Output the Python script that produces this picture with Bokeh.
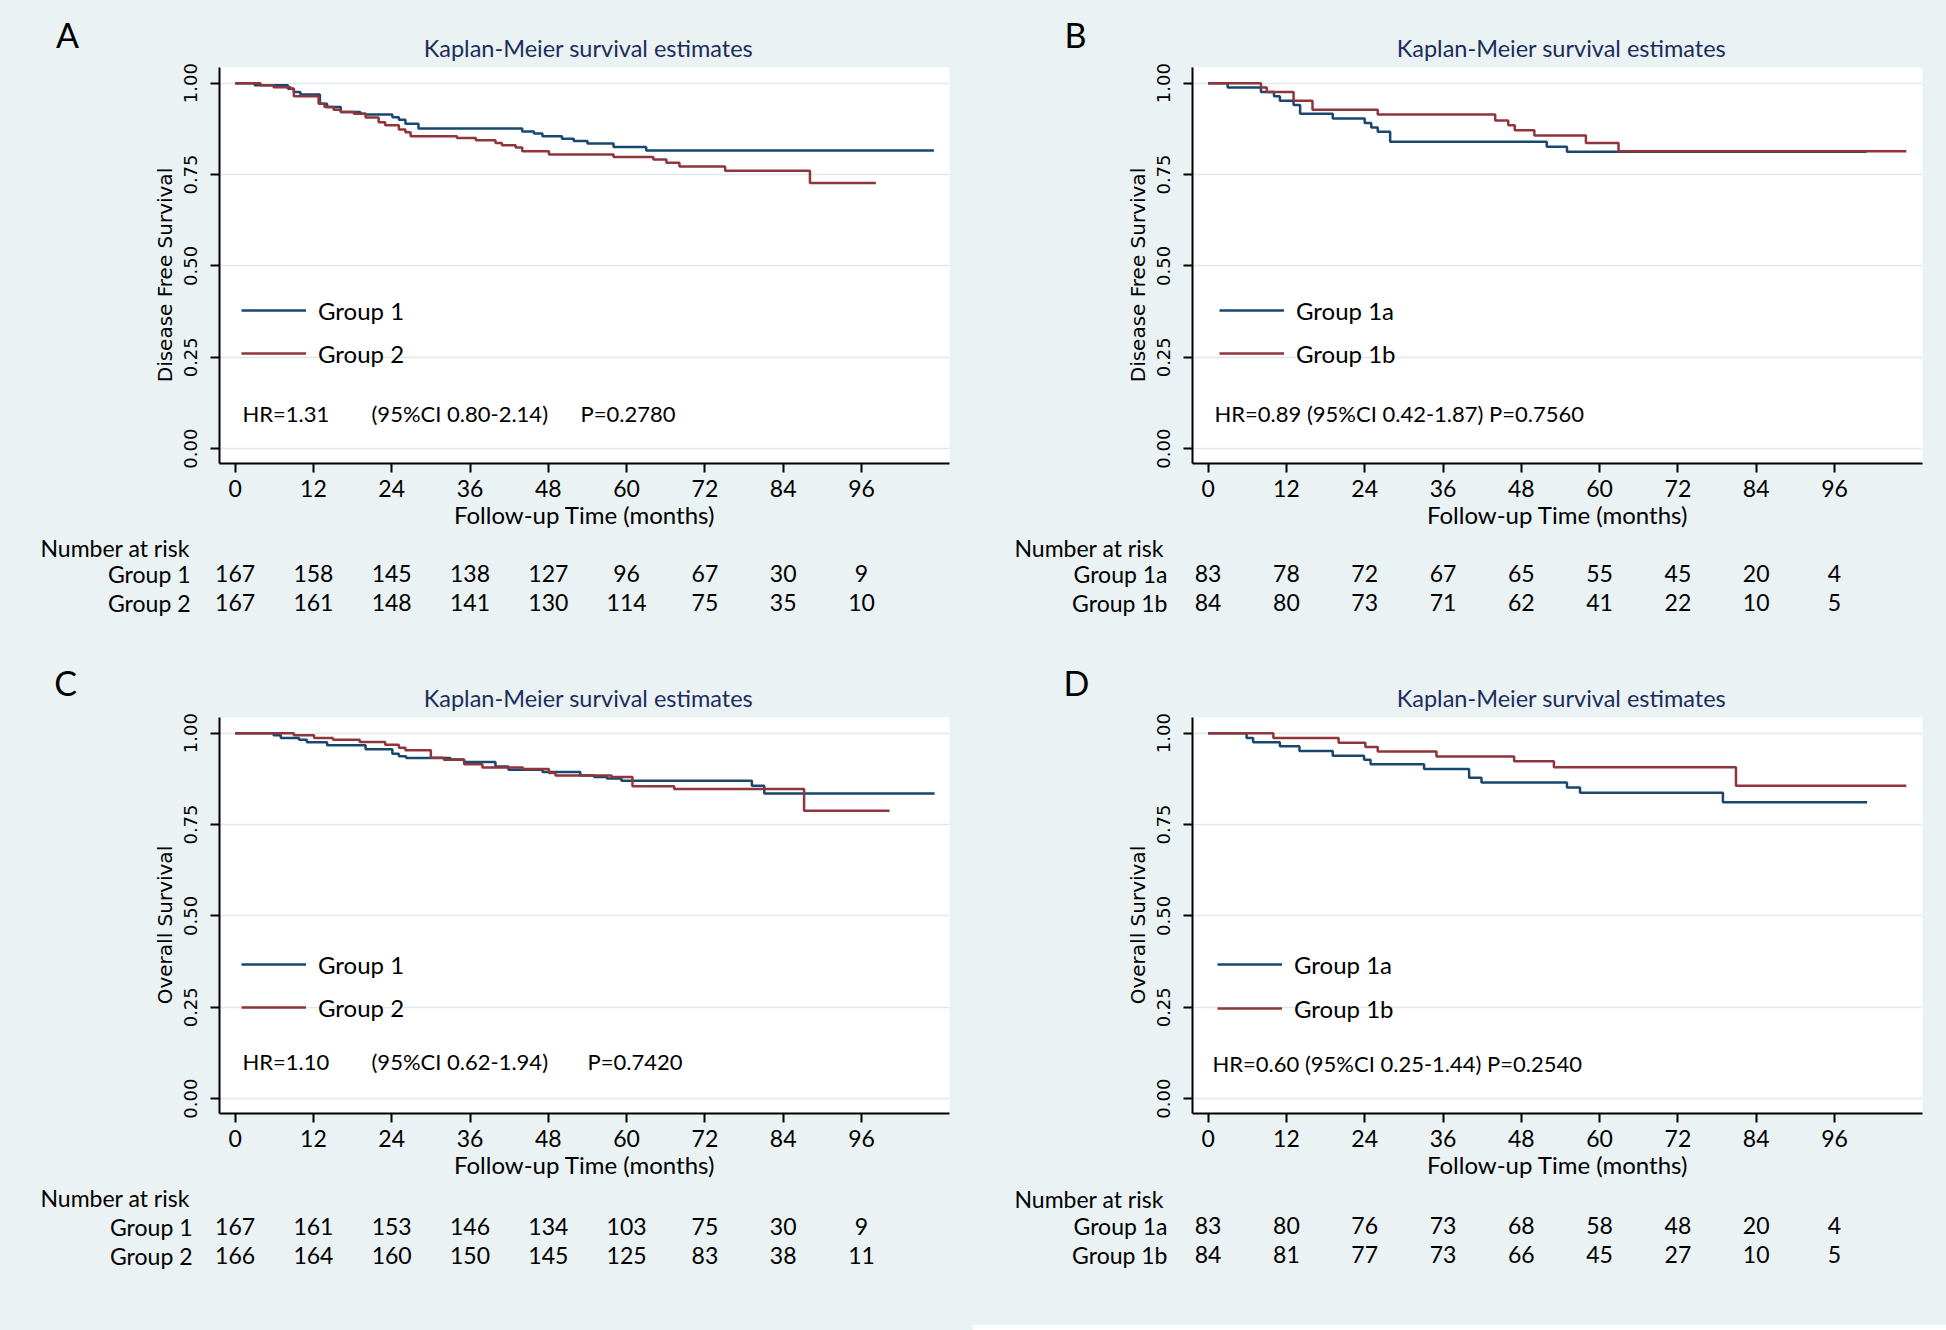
from bokeh.plotting import figure
from bokeh.models import (Range1d, FixedTicker, NumeralTickFormatter, Label,
                          Legend, LegendItem)
from bokeh.core.properties import value
from bokeh.layouts import column, row
from bokeh.embed import file_html
from bokeh.resources import INLINE

# ---------------- data ----------------
RISK_TIMES = [0, 12, 24, 36, 48, 60, 72, 84, 96]
X_TICKS = [0, 12, 24, 36, 48, 60, 72, 84, 96]
Y_TICKS = [0.0, 0.25, 0.5, 0.75, 1.0]

# Panel A: disease free survival, Group 1 vs Group 2
A_g1_time = [0, 3.0, 8.1, 9.0, 10.0, 13.0, 14.1, 16.2, 19.2, 20.0, 24.1, 25.1, 26.1, 28.1,
             44.0, 45.8, 47.1, 50.1, 51.9, 54.0, 58.0, 63.0, 107.1]
A_g1_surv = [1.0, 0.994, 0.985, 0.976, 0.969, 0.944, 0.935, 0.921, 0.916, 0.914, 0.907, 0.900,
             0.889, 0.876, 0.868, 0.862, 0.855, 0.848, 0.842, 0.835, 0.825, 0.816, 0.816]
A_g2_time = [0, 3.9, 5.9, 8.5, 9.0, 12.8, 13.7, 15.1, 16.2, 18.2, 20.0, 22.0, 23.0, 25.1, 26.1,
             26.9, 34.0, 36.9, 39.9, 40.9, 43.0, 44.0, 48.1, 58.0, 64.1, 66.1, 68.1, 75.1, 88.1, 98.2]
A_g2_surv = [1.0, 0.994, 0.989, 0.985, 0.964, 0.944, 0.935, 0.927, 0.921, 0.916, 0.906, 0.893,
             0.885, 0.873, 0.866, 0.855, 0.850, 0.844, 0.836, 0.830, 0.824, 0.814, 0.805, 0.798,
             0.791, 0.782, 0.772, 0.760, 0.727, 0.727]
A_risk_g1 = [167, 158, 145, 138, 127, 96, 67, 30, 9]
A_risk_g2 = [167, 161, 148, 141, 130, 114, 75, 35, 10]

# Panel B: disease free survival, Group 1a vs Group 1b
B_g1_time = [0, 3.0, 8.1, 10.1, 11.0, 13.1, 14.1, 19.1, 24.0, 25.0, 26.0, 27.9, 51.9, 55.0, 100.9]
B_g1_surv = [1.0, 0.988, 0.976, 0.964, 0.952, 0.940, 0.916, 0.903, 0.891, 0.879, 0.867, 0.840,
             0.826, 0.812, 0.812]
B_g2_time = [0, 8.1, 9.0, 13.1, 16.0, 26.0, 44.0, 46.0, 47.0, 50.0, 57.9, 62.9, 107.0]
B_g2_surv = [1.0, 0.988, 0.976, 0.952, 0.927, 0.914, 0.898, 0.885, 0.871, 0.857, 0.836, 0.814, 0.814]
B_risk_g1 = [83, 78, 72, 67, 65, 55, 45, 20, 4]
B_risk_g2 = [84, 80, 73, 71, 62, 41, 22, 10, 5]

# Panel C: overall survival, Group 1 vs Group 2
C_g1_time = [0, 5.9, 7.0, 9.8, 11.0, 14.1, 20.0, 24.1, 25.1, 26.2, 33.0, 35.1, 39.9, 41.9, 47.1,
             52.9, 55.0, 57.0, 59.2, 79.2, 81.1, 107.2]
C_g1_surv = [1.0, 0.994, 0.987, 0.982, 0.975, 0.967, 0.956, 0.944, 0.937, 0.932, 0.928, 0.921,
             0.909, 0.900, 0.894, 0.884, 0.880, 0.876, 0.870, 0.856, 0.835, 0.835]
C_g2_time = [0, 9.0, 12.1, 15.0, 19.1, 23.0, 25.1, 26.1, 30.0, 32.0, 35.1, 37.9, 44.1, 48.1, 49.1,
             57.7, 60.9, 67.3, 87.2, 100.3]
C_g2_surv = [1.0, 0.994, 0.987, 0.982, 0.976, 0.968, 0.960, 0.953, 0.933, 0.927, 0.915, 0.906,
             0.902, 0.891, 0.884, 0.880, 0.855, 0.847, 0.788, 0.788]
C_risk_g1 = [167, 161, 153, 146, 134, 103, 75, 30, 9]
C_risk_g2 = [166, 164, 160, 150, 145, 125, 83, 38, 11]

# Panel D: overall survival, Group 1a vs Group 1b
D_g1_time = [0, 5.9, 6.9, 11.0, 14.0, 19.1, 23.9, 24.9, 33.1, 40.0, 41.9, 55.0, 57.0, 78.9, 101.0]
D_g1_surv = [1.0, 0.987, 0.975, 0.964, 0.951, 0.938, 0.927, 0.915, 0.902, 0.878, 0.865, 0.851,
             0.837, 0.811, 0.811]
D_g2_time = [0, 10.0, 20.0, 24.1, 26.0, 35.0, 46.9, 53.0, 80.9, 107.0]
D_g2_surv = [1.0, 0.987, 0.974, 0.962, 0.950, 0.936, 0.923, 0.907, 0.856, 0.856]
D_risk_g1 = [83, 80, 76, 73, 68, 58, 48, 20, 4]
D_risk_g2 = [84, 81, 77, 73, 66, 45, 27, 10, 5]

TITLE = "Kaplan-Meier survival estimates"
XLABEL = "Follow-up Time (months)"
YLABEL_DFS = "Disease Free Survival"
YLABEL_OS = "Overall Survival"

# ---------------- style ----------------
BG = "#eaf2f3"
BLUE = "#1a476f"
RED = "#90353b"
TITLE_C = "#1c2d5c"
GRID_C = "#dfe8eb"
SANS = "Lato"
DEJ = "DejaVu Sans"
NBSP_PAD = "\u00a0\u00a0\u00a0"   # nudges the rotated y label slightly downwards

PANEL_W = 973
HEAD_H = 62          # header strip (letter + title)
MAIN_BOTTOM = 531    # bottom of the plot figure, panel-relative
FRAME_L, FRAME_T, FRAME_W, FRAME_H = 219, 67, 730, 397

# panel-relative pixel -> data helpers
X0_PX, S1_PX, PX_MONTH, PX_UNIT = 234.6, 82.7, 6.525, 366.4
def tx(px):
    return (px - X0_PX) / PX_MONTH
def sy(py):
    return 1 - (py - S1_PX) / PX_UNIT


def deco_fig(height, y_top):
    f = figure(width=PANEL_W, height=height,
               x_range=Range1d(tx(0), tx(PANEL_W)),
               y_range=Range1d(y_top + height, y_top),
               x_axis_type=None, y_axis_type=None,
               output_backend="svg", toolbar_location=None, tools="", min_border=0,
               background_fill_color=BG, border_fill_color=BG, outline_line_color=None)
    f.frame_align = False
    f.grid.visible = False
    return f


def panel(letter, letter_xy, ylab, curves, names, leg_x, leg_y, hr_items, hr_y,
          risks, lab_right, nar_left, nar_y, row_y, total_h):
    # ---- header: panel letter and title
    head = deco_fig(HEAD_H, 0)
    head.text(x=[tx(letter_xy[0])], y=[letter_xy[1]], text=[letter], text_align="center",
              text_baseline="middle", text_font=value(SANS), text_font_size=value("34px"),
              text_color="black")
    head.text(x=[tx(588)], y=[47.5], text=[TITLE], text_align="center",
              text_baseline="middle", text_font=value(SANS), text_font_size=value("23.5px"),
              text_color=TITLE_C)

    # ---- main plot
    main_h = MAIN_BOTTOM - HEAD_H
    mbt = FRAME_T - HEAD_H
    mbb = main_h - mbt - FRAME_H
    p = figure(width=PANEL_W, height=main_h,
               x_range=Range1d(tx(FRAME_L), tx(FRAME_L + FRAME_W)),
               y_range=Range1d(sy(FRAME_T + FRAME_H), sy(FRAME_T)),
               output_backend="svg", toolbar_location=None, tools="",
               min_border_left=FRAME_L, min_border_right=PANEL_W - FRAME_L - FRAME_W,
               min_border_top=mbt, min_border_bottom=mbb,
               background_fill_color="white", border_fill_color=BG,
               outline_line_color=None)
    p.frame_align = False

    p.xaxis.ticker = FixedTicker(ticks=X_TICKS)
    p.yaxis.ticker = FixedTicker(ticks=Y_TICKS)
    p.yaxis.formatter = NumeralTickFormatter(format="0.00")
    for ax in (p.xaxis[0], p.yaxis[0]):
        ax.axis_line_width = 2
        ax.axis_line_color = "black"
        ax.major_tick_line_width = 2
        ax.major_tick_line_color = "black"
        ax.major_tick_out = 9
        ax.major_tick_in = 0
        ax.minor_tick_line_color = None
        ax.axis_label_text_font_style = "normal"
        ax.major_label_text_color = "black"
        ax.axis_label_text_color = "black"
    p.xaxis.major_label_text_font = SANS
    p.xaxis.major_label_text_font_size = "23px"
    p.xaxis.major_label_standoff = 7
    p.xaxis.axis_label = XLABEL
    p.xaxis.axis_label_text_font = SANS
    p.xaxis.axis_label_text_font_size = "24px"
    p.xaxis.axis_label_standoff = 0

    p.yaxis.major_label_orientation = "vertical"
    p.yaxis.major_label_text_font = DEJ
    p.yaxis.major_label_text_font_size = "18px"
    p.yaxis.major_label_standoff = 13
    p.yaxis.axis_label = ylab + NBSP_PAD
    p.yaxis.axis_label_text_font = DEJ
    p.yaxis.axis_label_text_font_size = "20px"
    p.yaxis.axis_label_standoff = 5

    p.xgrid.visible = False
    p.ygrid.ticker = FixedTicker(ticks=Y_TICKS)
    p.ygrid.grid_line_color = GRID_C
    p.ygrid.grid_line_width = 1.5

    (t1, s1), (t2, s2) = curves
    r1 = p.step(t1, s1, mode="after", line_color=BLUE, line_width=2.5)
    r2 = p.step(t2, s2, mode="after", line_color=RED, line_width=2.5)

    item_h = 30
    legend = Legend(items=[LegendItem(label=names[0], renderers=[r1]),
                           LegendItem(label=names[1], renderers=[r2])],
                    location=(leg_x - FRAME_L, FRAME_T + FRAME_H - (leg_y[1] + item_h / 2)),
                    orientation="vertical", glyph_width=65, glyph_height=item_h,
                    label_height=item_h, label_standoff=12,
                    spacing=int(leg_y[1] - leg_y[0] - item_h), padding=0, margin=0,
                    border_line_color=None, background_fill_alpha=0,
                    label_text_font=SANS, label_text_font_size="24px",
                    label_text_color="black")
    p.add_layout(legend, "center")

    for txt, left in hr_items:
        p.add_layout(Label(x=tx(left), y=sy(hr_y), text=txt, text_align="left",
                           text_baseline="middle", text_font=SANS,
                           text_font_size="22px", text_color="black"))

    # ---- footer: number at risk table
    foot = deco_fig(total_h - MAIN_BOTTOM, MAIN_BOTTOM)
    foot.text(x=[tx(nar_left)], y=[nar_y], text=["Number at risk"], text_align="left",
              text_baseline="middle", text_font=value(SANS), text_font_size=value("23px"),
              text_color="black")
    for i, (nm, vals) in enumerate(zip(names, risks)):
        foot.text(x=[tx(lab_right)], y=[row_y[i]], text=[nm], text_align="right",
                  text_baseline="middle", text_font=value(SANS),
                  text_font_size=value("23px"), text_color="black")
        foot.text(x=RISK_TIMES, y=[row_y[i]] * len(RISK_TIMES), text=[str(v) for v in vals],
                  text_align="center", text_baseline="middle", text_font=value(SANS),
                  text_font_size=value("23px"), text_color="black")
    return column(head, p, foot, styles={"background-color": BG})


pA = panel("A", (67, 34), YLABEL_DFS,
           [(A_g1_time, A_g1_surv), (A_g2_time, A_g2_surv)], ["Group 1", "Group 2"],
           241, (311, 354),
           [("HR=1.31", 242), ("(95%CI 0.80-2.14)", 371), ("P=0.2780", 580)], 414,
           [A_risk_g1, A_risk_g2], 190, 40, 547, (573, 602), 650)

pB = panel("B", (102, 34), YLABEL_DFS,
           [(B_g1_time, B_g1_surv), (B_g2_time, B_g2_surv)], ["Group 1a", "Group 1b"],
           246, (311, 354),
           [("HR=0.89 (95%CI 0.42-1.87) P=0.7560", 241)], 414,
           [B_risk_g1, B_risk_g2], 194, 41, 547, (573, 602), 650)

pC = panel("C", (65, 32), YLABEL_OS,
           [(C_g1_time, C_g1_surv), (C_g2_time, C_g2_surv)], ["Group 1", "Group 2"],
           241, (315, 358),
           [("HR=1.10", 242), ("(95%CI 0.62-1.94)", 371), ("P=0.7420", 587)], 412,
           [C_risk_g1, C_risk_g2], 192, 40, 547, (576, 605), 680)

pD = panel("D", (103, 32), YLABEL_OS,
           [(D_g1_time, D_g1_surv), (D_g2_time, D_g2_surv)], ["Group 1a", "Group 1b"],
           244, (315, 359),
           [("HR=0.60 (95%CI 0.25-1.44) P=0.2540", 239)], 414,
           [D_risk_g1, D_risk_g2], 194, 41, 548, (575, 604), 675)

layout = row(column(pA, pC), column(pB, pD))
open("out.html", "w").write(file_html(layout, INLINE))
